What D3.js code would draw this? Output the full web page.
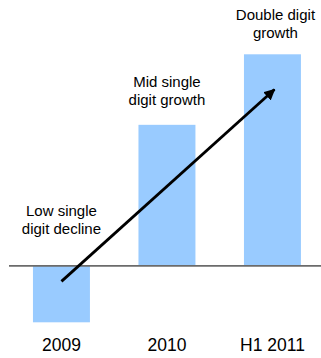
<!DOCTYPE html>
<html>
<head>
<meta charset="utf-8">
<script src="https://cdn.jsdelivr.net/npm/d3@7"></script>
<style>
  body { margin: 0; background: #fff; }
  text { font-family: "Liberation Sans", Arial, sans-serif; fill: #000; }
</style>
</head>
<body>
<svg></svg>
<script>
// chart data
var categories = ["2009", "2010", "H1 2011"];
var growth = [-4, 10, 15];
var notes = [["Low single", "digit decline"], ["Mid single", "digit growth"], ["Double digit", "growth"]];
var arrowValues = [-1.1, 12.5]; // start (2009) -> end (H1 2011)

var screen = {width: 321, height: 358};

var svg = d3.select("svg")
    .attr("width", screen.width)
    .attr("height", screen.height);

var xScale = d3.scaleBand()
    .domain(categories)
    .range([8.7, 325.2])
    .paddingInner(0.46)
    .paddingOuter(0.23);

var yScale = d3.scaleLinear()
    .domain([-4, 15])
    .range([322.3, 54.3]);

var bw = xScale.bandwidth();

// bars
svg.selectAll("rect.bar")
    .data(growth)
    .enter()
    .append("rect")
    .attr("class", "bar")
    .attr("x", function(d, i){ return xScale(categories[i]); })
    .attr("y", function(d){ return yScale(Math.max(d, 0)); })
    .attr("width", bw)
    .attr("height", function(d){ return Math.abs(yScale(d) - yScale(0)); })
    .attr("fill", "#99cbff");

// zero line
svg.append("line")
    .attr("x1", 9).attr("x2", screen.width)
    .attr("y1", yScale(0)).attr("y2", yScale(0))
    .attr("stroke", "#6b6b6b")
    .attr("stroke-width", 1.8);

// category labels
var xAxis = d3.axisBottom(xScale).tickSize(0).tickPadding(0);
var axisG = svg.append("g")
    .attr("transform", "translate(0,338)")
    .call(xAxis);
axisG.select(".domain").remove();
axisG.selectAll("text")
    .attr("dy", 0)
    .attr("y", 13)
    .style("font-size", "17.5px")
    .style("font-family", "'Liberation Sans', Arial, sans-serif")
    .attr("fill", "#000");

// notes above bars
var gaps = [32, 20, 16];
notes.forEach(function(lines, i){
    var cx = xScale(categories[i]) + bw / 2 + (i == 2 ? 3 : 0);
    var lastBase = yScale(Math.max(growth[i], 0)) - gaps[i];
    var t = svg.append("text")
        .attr("text-anchor", "middle")
        .style("font-size", "15px");
    lines.forEach(function(s, j){
        t.append("tspan")
            .attr("x", cx)
            .attr("y", lastBase - (lines.length - 1 - j) * 18)
            .text(s);
    });
});

// arrow
svg.append("defs").append("marker")
    .attr("id", "head")
    .attr("viewBox", "0 0 10 10")
    .attr("refX", 9).attr("refY", 5)
    .attr("markerWidth", 4).attr("markerHeight", 4)
    .attr("markerUnits", "strokeWidth")
    .attr("orient", "auto")
    .append("path")
    .attr("d", "M0,0 L10,5 L0,10 z")
    .attr("fill", "#000");

svg.append("line")
    .attr("x1", xScale(categories[0]) + bw / 2)
    .attr("y1", yScale(arrowValues[0]))
    .attr("x2", xScale(categories[2]) + bw / 2 + 2)
    .attr("y2", yScale(arrowValues[1]))
    .attr("stroke", "#000")
    .attr("stroke-width", 2.8)
    .attr("marker-end", "url(#head)");
</script>
</body>
</html>
